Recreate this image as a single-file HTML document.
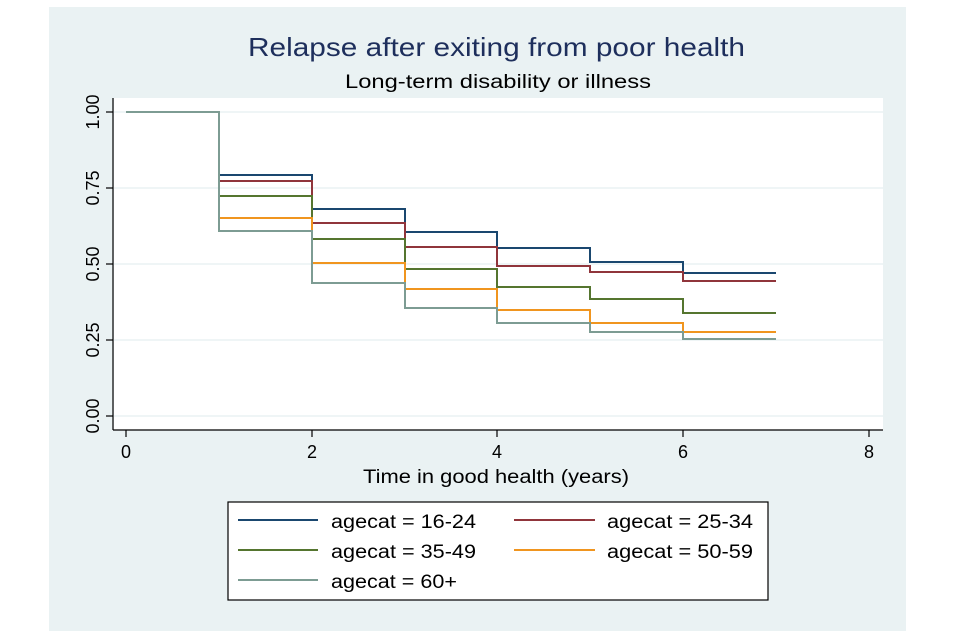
<!DOCTYPE html>
<html><head><meta charset="utf-8"><style>
body{margin:0;background:#fff;width:960px;height:640px;overflow:hidden}
svg{display:block}
text{font-family:"Liberation Sans",sans-serif}
</style></head><body>
<svg width="960" height="640" xmlns="http://www.w3.org/2000/svg">
<rect x="49" y="7" width="857" height="624" fill="#eaf2f3"/>
<rect x="114" y="98" width="769" height="332" fill="#fff"/>
<g stroke="#eaf2f3" stroke-width="1.5">
<line x1="114" x2="883" y1="112" y2="112"/><line x1="114" x2="883" y1="188" y2="188"/>
<line x1="114" x2="883" y1="264" y2="264"/><line x1="114" x2="883" y1="340" y2="340"/>
<line x1="114" x2="883" y1="416" y2="416"/>
</g>
<text x="248" y="56" font-size="26" fill="#1e2f5c" textLength="497" lengthAdjust="spacingAndGlyphs">Relapse after exiting from poor health</text>
<text x="345" y="88" font-size="19" fill="#000" textLength="306" lengthAdjust="spacingAndGlyphs">Long-term disability or illness</text>
<g stroke="#000" stroke-width="1.2" fill="none">
<line x1="113" y1="98" x2="113" y2="430"/><line x1="113" y1="430" x2="883" y2="430"/>
<line x1="106" x2="113" y1="112" y2="112"/><line x1="106" x2="113" y1="188" y2="188"/>
<line x1="106" x2="113" y1="264" y2="264"/><line x1="106" x2="113" y1="340" y2="340"/>
<line x1="106" x2="113" y1="416" y2="416"/>
<line x1="126" x2="126" y1="430" y2="437"/><line x1="312" x2="312" y1="430" y2="437"/>
<line x1="497" x2="497" y1="430" y2="437"/><line x1="683" x2="683" y1="430" y2="437"/>
<line x1="869" x2="869" y1="430" y2="437"/>
</g>
<g font-size="18" fill="#000" text-anchor="middle">
<text transform="translate(99,112) rotate(-90)">1.00</text>
<text transform="translate(99,188) rotate(-90)">0.75</text>
<text transform="translate(99,264) rotate(-90)">0.50</text>
<text transform="translate(99,340) rotate(-90)">0.25</text>
<text transform="translate(99,416) rotate(-90)">0.00</text>
<text x="126" y="458">0</text><text x="312" y="458">2</text><text x="497" y="458">4</text>
<text x="683" y="458">6</text><text x="869" y="458">8</text>
</g>
<text x="363" y="483" font-size="19" fill="#000" textLength="266" lengthAdjust="spacingAndGlyphs">Time in good health (years)</text>
<g fill="none" stroke-width="2">
<polyline stroke="#1a476f" points="126,112 219,112 219,175 312,175 312,209 405,209 405,232 497,232 497,248 590,248 590,262 683,262 683,273 776,273"/>
<polyline stroke="#90353b" points="219,112 219,181 312,181 312,223 405,223 405,247 497,247 497,266 590,266 590,272 683,272 683,281 776,281"/>
<polyline stroke="#55752f" points="219,112 219,196 312,196 312,239 405,239 405,269 497,269 497,287 590,287 590,299 683,299 683,313 776,313"/>
<polyline stroke="#f0951f" points="219,112 219,218 312,218 312,263 405,263 405,289 497,289 497,310 590,310 590,323 683,323 683,332 776,332"/>
<polyline stroke="#7d9c93" points="126,112 219,112 219,231 312,231 312,283 405,283 405,308 497,308 497,323 590,323 590,332 683,332 683,339 776,339"/>
</g>
<rect x="228" y="502" width="540" height="98" fill="#fff" stroke="#000" stroke-width="1.2"/>
<g stroke-width="2">
<line x1="238" x2="318" y1="520" y2="520" stroke="#1a476f"/>
<line x1="514" x2="595" y1="520" y2="520" stroke="#90353b"/>
<line x1="238" x2="318" y1="550" y2="550" stroke="#55752f"/>
<line x1="514" x2="595" y1="550" y2="550" stroke="#f0951f"/>
<line x1="238" x2="318" y1="580" y2="580" stroke="#7d9c93"/>
</g>
<g font-size="19" fill="#000">
<text x="331" y="528" textLength="145" lengthAdjust="spacingAndGlyphs">agecat = 16-24</text>
<text x="607" y="528" textLength="146" lengthAdjust="spacingAndGlyphs">agecat = 25-34</text>
<text x="331" y="558" textLength="145" lengthAdjust="spacingAndGlyphs">agecat = 35-49</text>
<text x="607" y="558" textLength="146" lengthAdjust="spacingAndGlyphs">agecat = 50-59</text>
<text x="331" y="588" textLength="126" lengthAdjust="spacingAndGlyphs">agecat = 60+</text>
</g>
</svg>
</body></html>
